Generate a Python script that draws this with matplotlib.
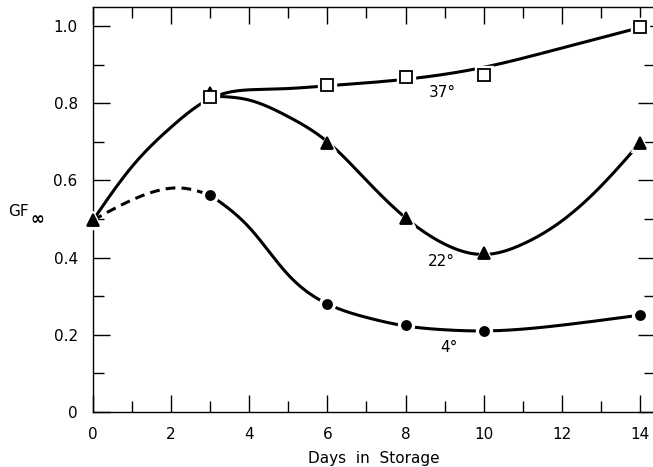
import numpy as np
import matplotlib
matplotlib.use("Agg")
import matplotlib.pyplot as plt
from matplotlib.ticker import MultipleLocator

# Measured GF-infinity values per storage temperature
DAYS_37 = [3, 6, 8, 10, 14]
GF_37 = [0.815, 0.847, 0.868, 0.873, 0.997]
DAYS_22 = [0, 3, 6, 8, 10, 14]
GF_22 = [0.497, 0.826, 0.697, 0.503, 0.413, 0.697]
DAYS_4 = [3, 6, 8, 10, 14]
GF_4 = [0.562, 0.280, 0.225, 0.210, 0.251]

# Hand-drawn trend curves (knots the smooth lines pass through)
CURVE_37_X = [0, 1, 2, 3, 4.5, 6, 8, 10, 12, 14]
CURVE_37_Y = [0.497, 0.636, 0.738, 0.812, 0.836, 0.845, 0.862, 0.893, 0.943, 0.996]
CURVE_22_X = [3, 4, 5, 6, 7, 8, 9, 10, 11, 12, 13, 14]
CURVE_22_Y = [0.818, 0.808, 0.765, 0.700, 0.600, 0.503, 0.435, 0.408, 0.435, 0.495, 0.585, 0.697]
CURVE_4_DASH_X = [0, 0.8, 1.6, 2.3, 3]
CURVE_4_DASH_Y = [0.497, 0.540, 0.572, 0.580, 0.562]
CURVE_4_X = [3, 4, 5, 6, 7, 8, 9, 10, 12, 14]
CURVE_4_Y = [0.562, 0.478, 0.355, 0.280, 0.245, 0.223, 0.213, 0.210, 0.225, 0.251]

LABELS = ["37°", "22°", "4°"]
LABEL_X = [8.93, 8.91, 9.11]
LABEL_Y = [0.829, 0.391, 0.166]

X_TICKS = [0, 2, 4, 6, 8, 10, 12, 14]
Y_TICKS = [0, 0.2, 0.4, 0.6, 0.8, 1.0]
Y_TICK_LABELS = ["0", "0.2", "0.4", "0.6", "0.8", "1.0"]

LW = 2.2
FS = 11


def _spline(xk, yk, xs):
    """Natural cubic spline through the knots."""
    xk = np.asarray(xk, float)
    yk = np.asarray(yk, float)
    n = len(xk)
    h = np.diff(xk)
    A = np.zeros((n, n))
    b = np.zeros(n)
    A[0, 0] = A[-1, -1] = 1.0
    for i in range(1, n - 1):
        A[i, i - 1] = h[i - 1]
        A[i, i] = 2 * (h[i - 1] + h[i])
        A[i, i + 1] = h[i]
        b[i] = 6 * ((yk[i + 1] - yk[i]) / h[i] - (yk[i] - yk[i - 1]) / h[i - 1])
    M = np.linalg.solve(A, b)
    idx = np.clip(np.searchsorted(xk, xs) - 1, 0, n - 2)
    x0, x1 = xk[idx], xk[idx + 1]
    hi = h[idx]
    a = (x1 - xs) / hi
    c = (xs - x0) / hi
    return (a * yk[idx] + c * yk[idx + 1]
            + ((a**3 - a) * M[idx] + (c**3 - c) * M[idx + 1]) * hi**2 / 6)


def _curve(ax, xk, yk, **kw):
    xs = np.linspace(xk[0], xk[-1], 400)
    ax.plot(xs, _spline(xk, yk, xs), color="black", lw=LW,
            solid_capstyle="butt", dash_capstyle="butt", zorder=2, **kw)


def _points(ax, xs, ys, marker, size, filled=True):
    # white halo first so the line breaks around each symbol
    ax.plot(xs, ys, ls="none", marker=marker, ms=size + 5, mfc="white",
            mec="white", zorder=3, clip_on=False)
    ax.plot(xs, ys, ls="none", marker=marker, ms=size,
            mfc="black" if filled else "white", mec="black", mew=1.3,
            zorder=4, clip_on=False)


def main() -> None:
    fig = plt.figure(figsize=(6.53, 4.67), dpi=100)
    ax = fig.add_axes([93 / 653, 55 / 467, 562 / 653, 405 / 467])

    _curve(ax, CURVE_37_X, CURVE_37_Y)
    _curve(ax, CURVE_22_X, CURVE_22_Y)
    _curve(ax, CURVE_4_DASH_X, CURVE_4_DASH_Y, ls=(0, (3.2, 2.0)))
    _curve(ax, CURVE_4_X, CURVE_4_Y)

    _points(ax, DAYS_22, GF_22, "^", 8)
    _points(ax, DAYS_4, GF_4, "o", 6.5)
    _points(ax, DAYS_37, GF_37, "s", 8, filled=False)

    for txt, x, y in zip(LABELS, LABEL_X, LABEL_Y):
        ax.text(x, y, txt, ha="center", va="center", fontsize=FS)

    ax.set_xlim(0, 562 / 39.07)
    ax.set_ylim(0, 405 / 386)
    ax.set_xticks(X_TICKS)
    ax.set_yticks(Y_TICKS)
    ax.set_yticklabels(Y_TICK_LABELS)
    ax.xaxis.set_minor_locator(MultipleLocator(1))
    ax.yaxis.set_minor_locator(MultipleLocator(0.1))
    ax.tick_params(which="both", direction="in", top=True, right=True,
                   width=1.0, labelsize=FS, pad=11)
    ax.tick_params(which="major", length=12)
    ax.tick_params(which="minor", length=8)
    for side in ("left", "bottom", "top"):
        ax.spines[side].set_linewidth(1.0)
    ax.spines["right"].set_visible(False)

    ax.set_xlabel("Days  in  Storage", fontsize=FS, labelpad=6)
    # y label: GF with a large infinity subscript
    fig.text(8 / 653, 1 - 211 / 467, "GF", fontsize=FS, ha="left", va="center")
    fig.text(30 / 653, 1 - 219 / 467, "∞", fontsize=12, ha="left",
             va="center", fontweight="bold")

    fig.savefig("out.png", dpi=100, facecolor="white")
    plt.close(fig)


if __name__ == "__main__":
    main()
